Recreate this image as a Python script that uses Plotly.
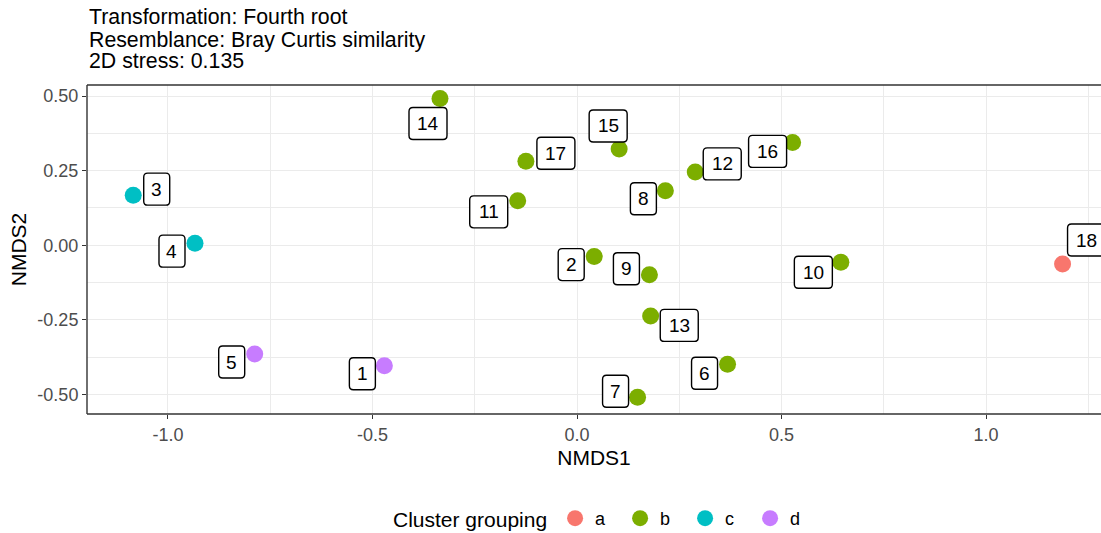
import plotly.graph_objects as go

# NMDS ordination scores per site
sites = [str(i) for i in range(1, 19)]
nmds1 = [-0.471, 0.042, -1.085, -0.934, -0.788, 0.368, 0.148, 0.216, 0.177,
         0.645, -0.145, 0.289, 0.180, -0.335, 0.103, 0.527, -0.125, 1.187]
nmds2 = [-0.404, -0.038, 0.168, 0.007, -0.365, -0.399, -0.510, 0.183, -0.099,
         -0.057, 0.149, 0.246, -0.237, 0.492, 0.323, 0.345, 0.282, -0.063]
cluster = ["d", "b", "c", "c", "d", "b", "b", "b", "b",
           "b", "b", "b", "b", "b", "b", "b", "b", "a"]
groups = ["a", "b", "c", "d"]

x_ticks = [-1.0, -0.5, 0.0, 0.5, 1.0]
x_tick_labels = ["-1.0", "-0.5", "0.0", "0.5", "1.0"]
y_ticks = [-0.5, -0.25, 0.0, 0.25, 0.5]
y_tick_labels = ["-0.50", "-0.25", "0.00", "0.25", "0.50"]

subtitle_lines = ["Transformation: Fourth root",
                  "Resemblance: Bray Curtis similarity",
                  "2D stress: 0.135"]

# styling
palette = {"a": "#F8766D", "b": "#7CAE00", "c": "#00BFC4", "d": "#C77CFF"}
FONT = "Liberation Sans, Arial, sans-serif"
# repelled label placement: pixel offsets (right, down) from each point
label_offsets = [(-22, 8), (-23, 8), (23.5, -6), (-23, 8), (-23, 8), (-23, 9),
                 (-22, -6), (-22, 8), (-23, -6), (-27.5, 10), (-29, 11), (27, -8),
                 (28.6, 9.5), (-12, 25), (-11, -23), (-25, 9), (30, -8), (24, -24)]

fig = go.Figure()
for g in groups:
    idx = [i for i, c in enumerate(cluster) if c == g]
    fig.add_trace(go.Scatter(
        x=[nmds1[i] for i in idx], y=[nmds2[i] for i in idx],
        mode="markers", name=g,
        marker=dict(color=palette[g], size=17, line=dict(width=0)),
        hoverinfo="skip",
    ))


def rounded_box(cx, cy, w, h, r):
    x0, x1 = cx - w / 2, cx + w / 2
    y0, y1 = cy - h / 2, cy + h / 2
    return (f"M{x0 + r},{y0} L{x1 - r},{y0} Q{x1},{y0} {x1},{y0 + r} "
            f"L{x1},{y1 - r} Q{x1},{y1} {x1 - r},{y1} L{x0 + r},{y1} "
            f"Q{x0},{y1} {x0},{y1 - r} L{x0},{y0 + r} Q{x0},{y0} {x0 + r},{y0} Z")


shapes = []
annotations = []
for s, xv, yv, (dx, dy) in zip(sites, nmds1, nmds2, label_offsets):
    w = 26 if len(s) == 1 else 38
    shapes.append(dict(
        type="path", xref="x", yref="y", xsizemode="pixel", ysizemode="pixel",
        xanchor=xv, yanchor=yv, path=rounded_box(dx, -dy, w, 32, 4),
        fillcolor="white", line=dict(color="black", width=1.4), layer="above",
    ))
    annotations.append(dict(
        x=xv, y=yv, xref="x", yref="y", text=s, showarrow=False,
        xshift=dx, yshift=-dy, xanchor="center", yanchor="middle",
        font=dict(family=FONT, size=19, color="black"),
    ))

# panel border (left, top, bottom)
border = dict(color="#333333", width=1.4)
shapes += [
    dict(type="line", xref="paper", yref="paper", x0=0, x1=0, y0=0, y1=1, line=border, layer="above"),
    dict(type="line", xref="paper", yref="paper", x0=0, x1=1, y0=1, y1=1, line=border, layer="above"),
    dict(type="line", xref="paper", yref="paper", x0=0, x1=1, y0=0, y1=0, line=border, layer="above"),
]

for line, ypos in zip(subtitle_lines, [1.2067, 1.1368, 1.0729]):
    annotations.append(dict(
        x=0, y=ypos, xref="paper", yref="paper", text=line, showarrow=False,
        xanchor="left", yanchor="middle",
        font=dict(family=FONT, size=21.3, color="black"),
    ))

axis_common = dict(
    showgrid=True, gridcolor="#EBEBEB", gridwidth=1.4, zeroline=False,
    ticks="outside", ticklen=4, tickwidth=1.2, tickcolor="#333333",
    tickfont=dict(family=FONT, size=18, color="#4D4D4D"),
    showline=False,
)

fig.update_layout(
    width=1101, height=533,
    margin=dict(l=87, r=0, t=85, b=119, autoexpand=False),
    paper_bgcolor="white", plot_bgcolor="white",
    font=dict(family=FONT),
    xaxis=dict(
        range=[-1.198, 1.281], tickmode="array", tickvals=x_ticks, ticktext=x_tick_labels,
        minor=dict(dtick=0.25, tick0=0, showgrid=True, gridcolor="#EBEBEB", gridwidth=0.9),
        title=dict(text="NMDS1", font=dict(family=FONT, size=21, color="black"), standoff=6),
        **axis_common,
    ),
    yaxis=dict(
        range=[-0.566, 0.5375], tickmode="array", tickvals=y_ticks, ticktext=y_tick_labels,
        minor=dict(dtick=0.125, tick0=0, showgrid=True, gridcolor="#EBEBEB", gridwidth=0.9),
        title=dict(text="NMDS2", font=dict(family=FONT, size=21, color="black"), standoff=5),
        **axis_common,
    ),
    legend=dict(
        orientation="h", x=0.2998, xanchor="left", y=-0.319, yanchor="middle",
        title=dict(text="Cluster grouping", side="left",
                   font=dict(family=FONT, size=21, color="black")),
        font=dict(family=FONT, size=18, color="black"),
        entrywidth=20, entrywidthmode="pixels",
        bgcolor="rgba(0,0,0,0)",
    ),
    shapes=shapes,
    annotations=annotations,
)

fig.write_html("out.html")
